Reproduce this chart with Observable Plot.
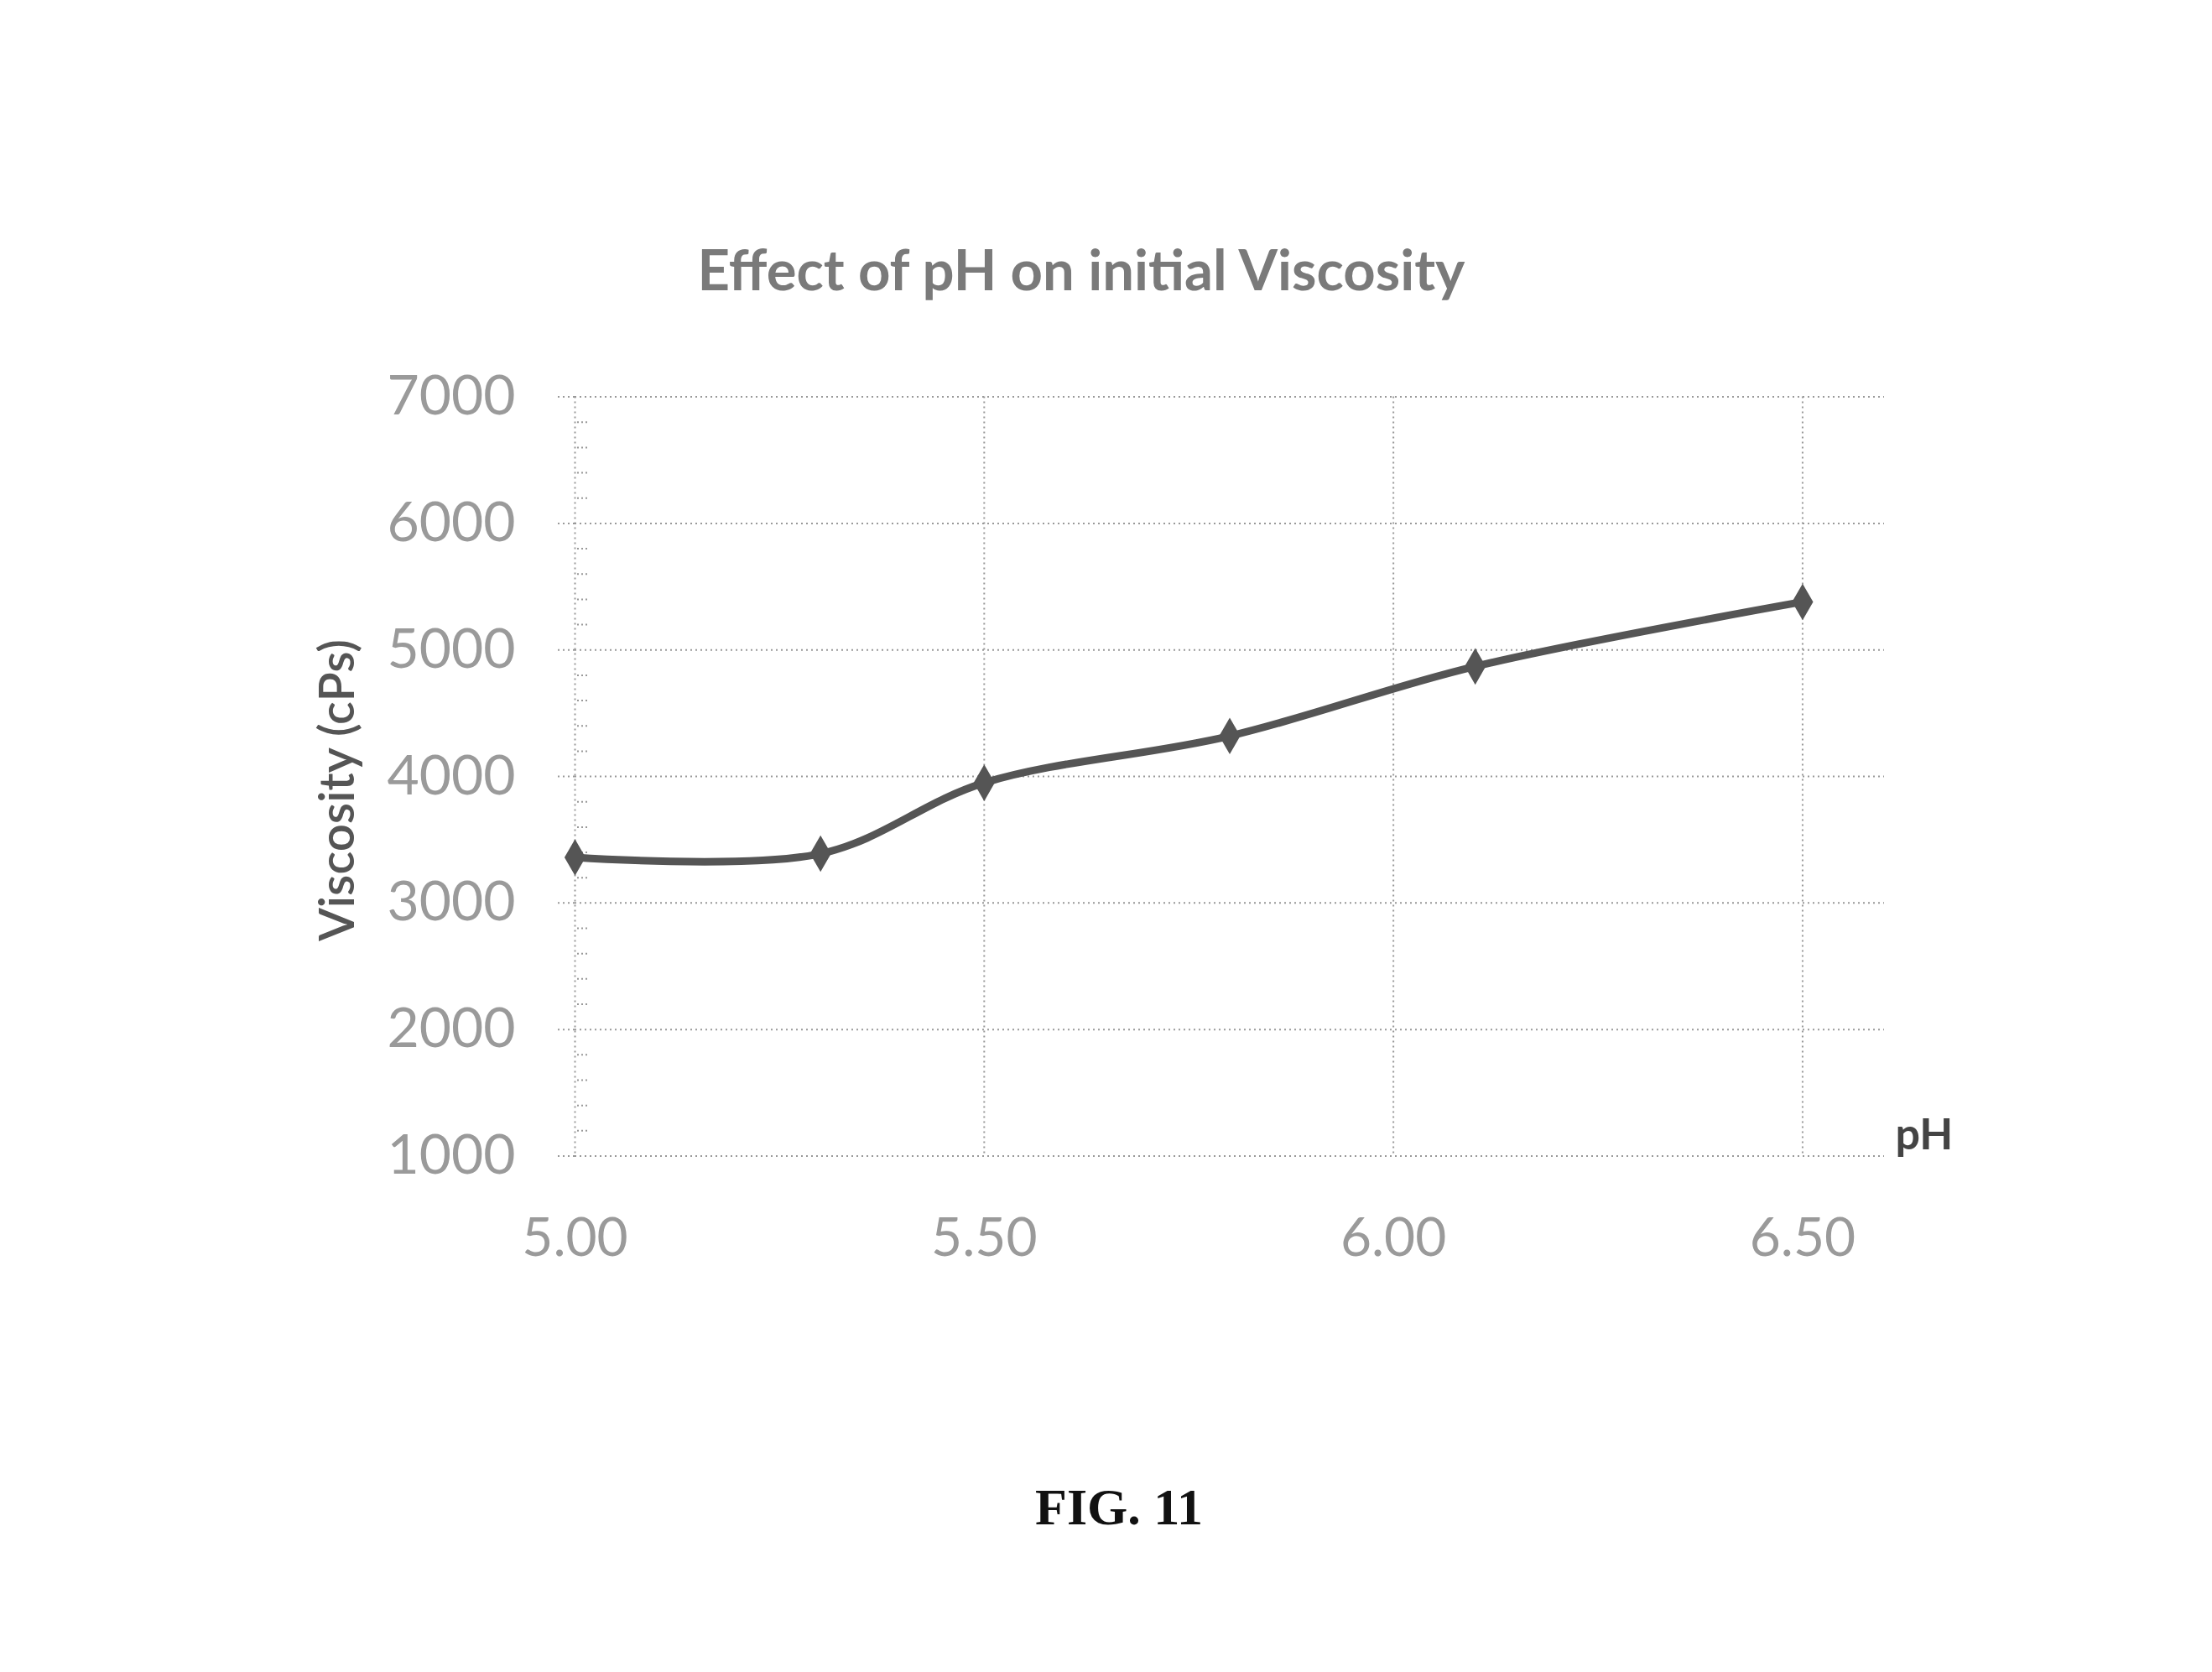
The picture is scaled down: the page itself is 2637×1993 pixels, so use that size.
<!DOCTYPE html>
<html>
<head>
<meta charset="utf-8">
<script src="https://cdn.jsdelivr.net/npm/d3@7"></script>
<script src="https://cdn.jsdelivr.net/npm/@observablehq/plot@0.6"></script>
<style>
  body { margin: 0; background: #fff; }
  #wrap { position: relative; width: 2637px; height: 1993px; background: #fff; overflow: hidden; }
  #title { position: absolute; left: 0; width: 2578px; top: 280px; line-height: 80px; text-align: center;
           font-family: Lato, sans-serif; font-weight: bold; font-size: 67px; color: #7a7a7a; }
  #chart { position: absolute; left: 0; top: 400px; }
  #ylabel { position: absolute; left: 399px; top: 942px; transform: translate(-50%, -50%) rotate(-90deg);
            font-family: Lato, sans-serif; font-weight: 600; font-size: 58px; color: #555; white-space: nowrap; }
  #phlabel { position: absolute; left: 2294px; top: 1350px; transform: translate(-50%, -50%);
             font-family: Lato, sans-serif; font-weight: bold; font-size: 52px; color: #444; }
  #fig { position: absolute; left: 1334px; top: 1796px; transform: translate(-50%, -50%);
         font-family: "Liberation Serif", serif; font-weight: bold; font-size: 62px; color: #111; white-space: nowrap; }
</style>
</head>
<body>
<div id="wrap">
  <div id="title">Effect of pH on initial Viscosity</div>
  <div id="chart"></div>
  <div id="ylabel">Viscosity (cPs)</div>
  <div id="phlabel">pH</div>
  <div id="fig">FIG. 11</div>
</div>
<script>
const phValues = [5.0, 5.3, 5.5, 5.8, 6.1, 6.5];
const viscosity = [3360, 3390, 3950, 4320, 4870, 5380];
const yTicks = [1000, 2000, 3000, 4000, 5000, 6000, 7000];
const yMinorTicks = d3.range(1000, 7001, 200).filter(v => v % 1000 !== 0);
const xTicks = [5.0, 5.5, 6.0, 6.5];

const data = phValues.map((p, i) => ({ph: p, v: viscosity[i]}));

const chart = Plot.plot({
  width: 2637,
  height: 1200,
  marginTop: 72.6,
  marginBottom: 222.5,
  marginLeft: 685,
  marginRight: 391,
  style: { fontFamily: "Lato, sans-serif", background: "transparent" },
  x: { domain: [5.0, 6.6] },
  y: { domain: [1000, 7000] },
  marks: [
    Plot.ruleY(yTicks, { stroke: "#999", strokeWidth: 2, strokeDasharray: "2,4" }),
    Plot.ruleX(xTicks, { stroke: "#999", strokeWidth: 2, strokeDasharray: "2,4" }),
    Plot.axisY({
      ticks: yTicks, tickSize: 24, tickPadding: 47, fontSize: 66,
      tickFormat: d => String(d),
      fill: "#9a9a9a", stroke: "#999", strokeWidth: 2, strokeDasharray: "2,4", label: null
    }),
    Plot.axisY({
      ticks: yMinorTicks, tickSize: 15, dx: 15, text: null, label: null,
      stroke: "#999", strokeWidth: 2, strokeDasharray: "2,3"
    }),
    Plot.axisX({
      ticks: xTicks, tickSize: 0, tickPadding: 74, fontSize: 64,
      fill: "#9a9a9a", tickFormat: d => d.toFixed(2), label: null
    }),
    Plot.line(data, { x: "ph", y: "v", curve: "catmull-rom", stroke: "#555", strokeWidth: 9 }),
    Plot.dot(data, { x: "ph", y: "v", symbol: "diamond", r: 12, fill: "#555", stroke: "#555", strokeWidth: 2 })
  ]
});
document.getElementById("chart").appendChild(chart);
</script>
</body>
</html>
